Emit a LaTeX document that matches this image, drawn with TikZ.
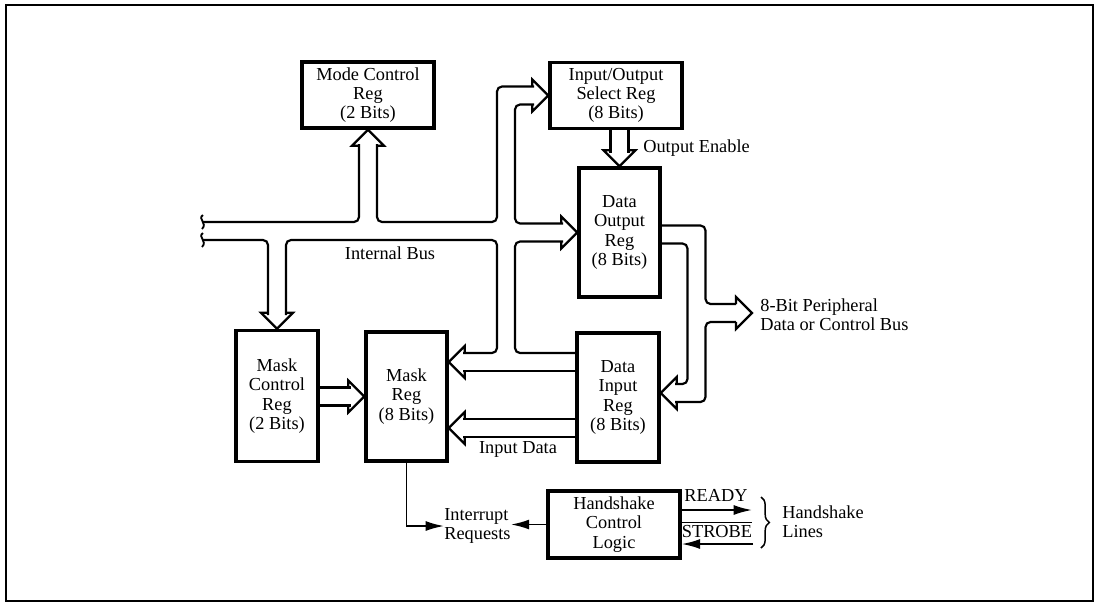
\documentclass[tikz,border=0pt]{standalone}
\usepackage{fontspec}
\setmainfont{Liberation Serif}
\usetikzlibrary{calc}
\usetikzlibrary{arrows.meta}
\usetikzlibrary{decorations.pathreplacing}
\def\openhead[#1](#2)(#3)% Syntax: [draw options] (tip) (direction angle)
{ \draw[line width=1.3pt,#1,shift={(#2)},rotate=#3] (-16,9) -- (-16,16) -- (0,0) -- (-16,-16) -- (-16,-9); }
\tikzset{
	reg/.style={draw, line width=2.1pt, align=center, inner sep=0pt},
	pipe/.style={line width=1.3pt, rounded corners=3pt},
	sig/.style={line width=1.1pt, -{Latex[length=11pt,width=6pt]}},
	lbl/.style={align=left, inner sep=0pt},
}

\begin{document}
\begin{tikzpicture}[x=0.6pt,y=-0.6pt,font=\fontsize{11}{11.5}\selectfont]
	\useasboundingbox (0,0) rectangle (1102,606);
	\draw[line width=1.4pt] (6,5) rectangle (1093,601);
	% registers
	\node[reg, minimum width=79.2pt, minimum height=39.6pt] (mode) at (368,95) {Mode Control\\Reg\\(2 Bits)};
	\node[reg, minimum width=79.2pt, minimum height=39.6pt] (iosel) at (616,95.5) {Input/Output\\Select Reg\\(8 Bits)};
	\node[reg, minimum width=48.6pt, minimum height=77.4pt] (dout) at (619.5,232.5) {Data\\Output\\Reg\\(8 Bits)};
	\node[reg, minimum width=49.2pt, minimum height=77.4pt] (din) at (618,397.5) {Data\\Input\\Reg\\(8 Bits)};
	\node[reg, minimum width=49.2pt, minimum height=78.6pt] (mctl) at (277,396) {Mask\\Control\\Reg\\(2 Bits)};
	\node[reg, minimum width=48.6pt, minimum height=77.4pt] (mreg) at (406.5,396.5) {Mask\\Reg\\(8 Bits)};
	\node[reg, minimum width=79.2pt, minimum height=40.2pt] (hs) at (614,524.5) {Handshake\\Control\\Logic};
	% internal bus
	\foreach \y in {222,240}
		\draw[line width=1.1pt] (203,\y-7) .. controls (197,\y-3) and (208,\y+1) .. (202,\y+7);
	\draw[pipe] (203,222) -- (359,222) -- (359,144);
	\draw[pipe] (377,144) -- (377,222) -- (497,222) -- (497,86.5) -- (534,86.5);
	\openhead[](mode.south)(90);
	\openhead[](iosel.west)(0);
	\draw[pipe] (534,104.5) -- (515,104.5) -- (515,223.5) -- (563,223.5);
	\openhead[](dout.west)(0);
	\draw[pipe] (563,241.5) -- (515,241.5) -- (515,353) -- (din.west |- 0,353);
	\draw[pipe] (203,240) -- (268,240) -- (268,315);
	\openhead[](mctl.north)(-90);
	\draw[pipe] (286,315) -- (286,240) -- (497,240) -- (497,353) -- (463,353);
	\openhead[](mreg.east |- 0,362)(180);
	\draw[pipe] (463,371) -- (din.west |- 0,371);
	\node[lbl] (busname) at (390,253) {Internal Bus};
	% input data
	\openhead[](mreg.east |- 0,428)(180);
	\draw[pipe] (463,419) -- (din.west |- 0,419);
	\draw[pipe] (463,437) -- (din.west |- 0,437);
	\node[lbl] (indata) at (518,449) {Input Data};
	% mask control to mask reg
	\openhead[](mreg.west)(0);
	\draw[pipe] (mctl.east |- 0,387.5) -- (350.5,387.5);
	\draw[pipe] (mctl.east |- 0,405.5) -- (350.5,405.5);
	% output enable
	\openhead[](dout.north)(-90);
	\draw[pipe] (610.5,128) -- (610.5,153);
	\draw[pipe] (628.5,128) -- (628.5,153);
	\node[lbl, anchor=west] (oe) at (643,148) {Output Enable};
	% peripheral bus
	\coordinate (pbus) at (752,313);
	\draw[pipe] (dout.east |- 0,225.5) -- (705.5,225.5) -- (705.5,304) -- (736,304);
	\openhead[](pbus)(0);
	\draw[pipe] (736,322) -- (705.5,322) -- (705.5,402) -- (675,402);
	\openhead[](din.east |- 0,393)(180);
	\draw[pipe] (dout.east |- 0,243.5) -- (687.5,243.5) -- (687.5,384) -- (675,384);
	\node[lbl, anchor=west] (periph) at (760,315) {8-Bit Peripheral\\Data or Control Bus};
	% interrupt and handshake
	\node[lbl, anchor=west] (irq) at (444,526) {Interrupt\\Requests};
	\draw[sig] (mreg.south) |- (irq.west);
	\draw[sig] (hs.west) -- (hs.west -| irq.east);
	\coordinate (rdy) at (752,510);
	\coordinate (stb) at (753,544);
	\draw[sig] (hs.east |- rdy) -- (rdy);
	\draw[sig] (stb) -- (stb -| hs.east);
	\node[lbl] (ready) at (716,495) {READY};
	\node[lbl] (strobe) at (717,532) {STROBE};
	\draw[line width=1pt] ($(strobe.north west)+(0,-3)$) -- ($(strobe.north east)+(0,-3)$);
	\draw[decorate, decoration={brace, amplitude=5pt}, line width=0.9pt] (761,497) -- (761,548);
	\node[lbl, anchor=west] (hslines) at (782,522) {Handshake\\Lines};
\end{tikzpicture}
\end{document}
